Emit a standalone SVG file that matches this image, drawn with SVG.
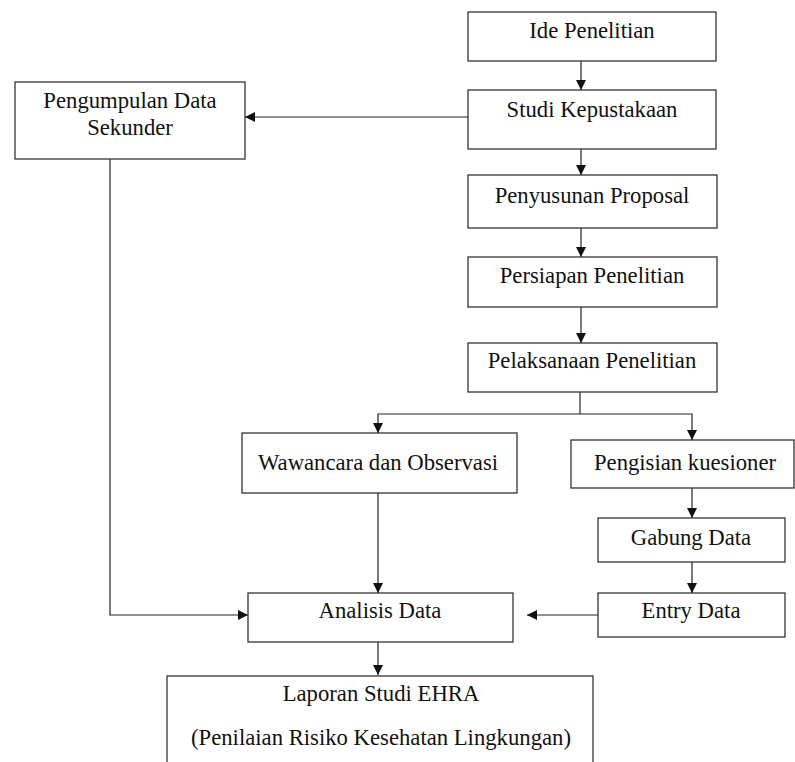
<svg xmlns="http://www.w3.org/2000/svg" width="795" height="762" viewBox="0 0 795 762">
<style>
.box{fill:#fff;stroke:#333;stroke-width:1.3}
.t{font-size:22.7px;fill:#111;text-anchor:middle}
.c{fill:none;stroke:#222;stroke-width:1.2}
</style>
<defs>
<marker id="ah" markerUnits="userSpaceOnUse" markerWidth="10" markerHeight="10" refX="10" refY="5" orient="auto">
<path d="M0,0 L10,5 L0,10 z" fill="#111"/>
</marker>
</defs>
<rect width="795" height="762" fill="#fff"/>
<g id="connectors">
<path class="c" d="M581,61 V90" marker-end="url(#ah)"/>
<path class="c" d="M468,117 H245" marker-end="url(#ah)"/>
<path class="c" d="M581,149 V175" marker-end="url(#ah)"/>
<path class="c" d="M581,228 V257" marker-end="url(#ah)"/>
<path class="c" d="M581,307 V343" marker-end="url(#ah)"/>
<path class="c" d="M580,392 V414"/>
<path class="c" d="M580,414 H378 V433" marker-end="url(#ah)"/>
<path class="c" d="M580,414 H692 V440" marker-end="url(#ah)"/>
<path class="c" d="M378,493 V593" marker-end="url(#ah)"/>
<path class="c" d="M692,488 V518" marker-end="url(#ah)"/>
<path class="c" d="M692,562 V593" marker-end="url(#ah)"/>
<path class="c" d="M598,615 H527" marker-end="url(#ah)"/>
<path class="c" d="M110,159 V615 H248" marker-end="url(#ah)"/>
<path class="c" d="M378,642 V675" marker-end="url(#ah)"/>
</g>
<g font-family="Liberation Serif, Tinos, DejaVu Serif, Times New Roman, serif">
<g id="ide"><rect class="box" x="468" y="12" width="248" height="49"/><text class="t" x="592" y="38">Ide Penelitian</text></g>
<g id="studi"><rect class="box" x="468" y="90" width="248" height="59"/><text class="t" x="592" y="117">Studi Kepustakaan</text></g>
<g id="pengumpulan"><rect class="box" x="15" y="82" width="230" height="77"/><text class="t" x="130" y="108">Pengumpulan Data</text><text class="t" x="130" y="135">Sekunder</text></g>
<g id="penyusunan"><rect class="box" x="468" y="175" width="249" height="53"/><text class="t" x="592" y="203">Penyusunan Proposal</text></g>
<g id="persiapan"><rect class="box" x="468" y="257" width="249" height="50"/><text class="t" x="592" y="283">Persiapan Penelitian</text></g>
<g id="pelaksanaan"><rect class="box" x="468" y="343" width="249" height="49"/><text class="t" x="592" y="368">Pelaksanaan Penelitian</text></g>
<g id="wawancara"><rect class="box" x="242" y="433" width="275" height="60"/><text class="t" x="378" y="470">Wawancara dan Observasi</text></g>
<g id="pengisian"><rect class="box" x="571" y="440" width="223" height="48"/><text class="t" x="685" y="470">Pengisian kuesioner</text></g>
<g id="gabung"><rect class="box" x="598" y="518" width="187" height="44"/><text class="t" x="691" y="545">Gabung Data</text></g>
<g id="entry"><rect class="box" x="598" y="593" width="187" height="44"/><text class="t" x="691" y="618">Entry Data</text></g>
<g id="analisis"><rect class="box" x="248" y="593" width="265" height="49"/><text class="t" x="380" y="618">Analisis Data</text></g>
<g id="laporan"><rect class="box" x="167" y="676" width="426" height="100"/><text class="t" x="381" y="701">Laporan Studi EHRA</text><text class="t" x="381" y="745">(Penilaian Risiko Kesehatan Lingkungan)</text></g>
</g>
</svg>
